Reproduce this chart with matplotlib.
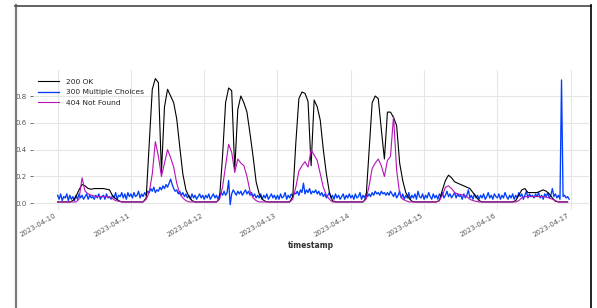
import matplotlib
matplotlib.use("Agg")
import matplotlib.pyplot as plt
import matplotlib.dates as mdates
from matplotlib.lines import Line2D
import pandas as pd

# ---------------- data (hourly for 200 / 404, half-hourly for 300) ----------------
series_names = ["200 OK", "300 Multiple Choices", "404 Not Found"]
series_colors = ["#000000", "#003DFD", "#b512b8"]

ok_200 = [
    # 04-10
    0.01, 0.01, 0.01, 0.01, 0.01, 0.02, 0.05, 0.10, 0.14, 0.13, 0.11, 0.105,
    0.11, 0.11, 0.11, 0.11, 0.105, 0.10, 0.055, 0.035, 0.02, 0.01, 0.01, 0.01,
    # 04-11
    0.01, 0.01, 0.01, 0.01, 0.01, 0.04, 0.45, 0.85, 0.93, 0.90, 0.23, 0.72,
    0.85, 0.80, 0.75, 0.63, 0.42, 0.22, 0.10, 0.05, 0.02, 0.01, 0.01, 0.01,
    # 04-12
    0.01, 0.01, 0.01, 0.01, 0.01, 0.03, 0.35, 0.75, 0.86, 0.84, 0.25, 0.70,
    0.80, 0.75, 0.68, 0.52, 0.35, 0.16, 0.07, 0.03, 0.015, 0.01, 0.01, 0.01,
    # 04-13
    0.01, 0.01, 0.01, 0.01, 0.01, 0.05, 0.45, 0.78, 0.83, 0.82, 0.76, 0.28,
    0.77, 0.72, 0.62, 0.40, 0.22, 0.08, 0.02, 0.01, 0.01, 0.01, 0.01, 0.01,
    # 04-14
    0.01, 0.01, 0.01, 0.01, 0.01, 0.04, 0.40, 0.75, 0.80, 0.78, 0.55, 0.33,
    0.68, 0.68, 0.64, 0.58, 0.30, 0.17, 0.08, 0.04, 0.015, 0.01, 0.01, 0.01,
    # 04-15
    0.01, 0.01, 0.01, 0.01, 0.01, 0.02, 0.10, 0.17, 0.21, 0.19, 0.16, 0.15,
    0.14, 0.13, 0.12, 0.11, 0.08, 0.05, 0.02, 0.01, 0.01, 0.01, 0.01, 0.01,
    # 04-16
    0.01, 0.01, 0.01, 0.01, 0.01, 0.01, 0.02, 0.06, 0.10, 0.11, 0.08, 0.08,
    0.08, 0.08, 0.09, 0.10, 0.09, 0.07, 0.04, 0.015, 0.01, 0.01, 0.01, 0.01,
]

not_found_404 = [
    # 04-10
    0.01, 0.01, 0.01, 0.01, 0.01, 0.01, 0.01, 0.03, 0.19, 0.09, 0.07, 0.06,
    0.055, 0.05, 0.05, 0.05, 0.05, 0.045, 0.035, 0.02, 0.015, 0.01, 0.01, 0.01,
    # 04-11
    0.01, 0.01, 0.01, 0.01, 0.01, 0.03, 0.08, 0.22, 0.46, 0.35, 0.20, 0.30,
    0.40, 0.34, 0.27, 0.15, 0.07, 0.04, 0.02, 0.01, 0.01, 0.01, 0.01, 0.01,
    # 04-12
    0.01, 0.01, 0.01, 0.01, 0.01, 0.03, 0.12, 0.28, 0.44, 0.38, 0.23, 0.33,
    0.30, 0.28, 0.20, 0.09, 0.04, 0.02, 0.01, 0.01, 0.01, 0.01, 0.01, 0.01,
    # 04-13
    0.01, 0.01, 0.01, 0.01, 0.01, 0.03, 0.12, 0.24, 0.28, 0.31, 0.27, 0.40,
    0.36, 0.32, 0.22, 0.12, 0.06, 0.03, 0.01, 0.01, 0.01, 0.01, 0.01, 0.01,
    # 04-14
    0.01, 0.01, 0.01, 0.01, 0.01, 0.03, 0.13, 0.26, 0.30, 0.33, 0.28, 0.20,
    0.32, 0.35, 0.65, 0.25, 0.07, 0.03, 0.02, 0.01, 0.01, 0.01, 0.01, 0.01,
    # 04-15
    0.01, 0.01, 0.01, 0.01, 0.01, 0.02, 0.06, 0.12, 0.13, 0.11, 0.08, 0.07,
    0.065, 0.06, 0.05, 0.03, 0.02, 0.015, 0.01, 0.01, 0.01, 0.01, 0.01, 0.01,
    # 04-16
    0.01, 0.01, 0.01, 0.01, 0.01, 0.01, 0.01, 0.02, 0.04, 0.05, 0.05, 0.05,
    0.05, 0.05, 0.05, 0.05, 0.045, 0.04, 0.03, 0.02, 0.01, 0.01, 0.01, 0.01,
]

multiple_300 = [
    # 04-10
    0.06, 0.03, 0.07, 0.02, 0.05, 0.04, 0.07, 0.02, 0.06, 0.03, 0.05, 0.02,
    0.06, 0.03, 0.07, 0.04, 0.06, 0.03, 0.05, 0.07, 0.03, 0.06, 0.04, 0.05,
    0.03, 0.06, 0.04, 0.07, 0.03, 0.05, 0.06, 0.03, 0.07, 0.04, 0.05, 0.03,
    0.06, 0.04, 0.08, 0.03, 0.06, 0.05, 0.08, 0.04, 0.07, 0.03, 0.08, 0.05,
    # 04-11
    0.07, 0.04, 0.08, 0.05, 0.06, 0.09, 0.04, 0.07, 0.05, 0.08, 0.06, 0.09,
    0.08, 0.11, 0.09, 0.12, 0.08, 0.10, 0.09, 0.12, 0.10, 0.13, 0.11, 0.14,
    0.12, 0.15, 0.18, 0.14, 0.11, 0.09, 0.10, 0.07, 0.09, 0.06, 0.08, 0.05,
    0.07, 0.04, 0.06, 0.03, 0.07, 0.04, 0.06, 0.03, 0.05, 0.07, 0.04, 0.06,
    # 04-12
    0.03, 0.06, 0.04, 0.07, 0.03, 0.05, 0.07, 0.04, 0.06, 0.03, 0.06, 0.08,
    0.06, 0.09, 0.06, 0.08, 0.17, -0.01, 0.07, 0.10, 0.08, 0.06, 0.09, 0.07,
    0.09, 0.06, 0.08, 0.10, 0.07, 0.09, 0.06, 0.08, 0.05, 0.07, 0.04, 0.06,
    0.04, 0.07, 0.03, 0.06, 0.04, 0.07, 0.03, 0.05, 0.07, 0.04, 0.06, 0.03,
    # 04-13
    0.06, 0.03, 0.07, 0.04, 0.05, 0.08, 0.03, 0.06, 0.04, 0.07, 0.05, 0.08,
    0.07, 0.09, 0.06, 0.10, 0.08, 0.15, 0.07, 0.10, 0.08, 0.11, 0.07, 0.09,
    0.08, 0.10, 0.07, 0.09, 0.06, 0.08, 0.05, 0.07, 0.04, 0.06, 0.08, 0.04,
    0.06, 0.03, 0.07, 0.04, 0.06, 0.03, 0.05, 0.07, 0.03, 0.06, 0.04, 0.07,
    # 04-14
    0.04, 0.06, 0.03, 0.07, 0.04, 0.05, 0.08, 0.03, 0.06, 0.04, 0.07, 0.05,
    0.07, 0.05, 0.08, 0.06, 0.09, 0.07, 0.08, 0.06, 0.09, 0.07, 0.08, 0.06,
    0.08, 0.06, 0.09, 0.07, 0.05, 0.08, 0.04, 0.06, 0.09, 0.04, 0.07, 0.03,
    0.06, 0.04, 0.08, 0.03, 0.06, 0.04, 0.07, 0.03, 0.09, 0.05, 0.04, 0.07,
    # 04-15
    0.03, 0.06, 0.04, 0.08, 0.05, 0.03, 0.07, 0.04, 0.06, 0.03, 0.07, 0.05,
    0.08, 0.04, 0.06, 0.09, 0.05, 0.07, 0.04, 0.06, 0.08, 0.04, 0.07, 0.05,
    0.06, 0.03, 0.07, 0.04, 0.06, 0.10, 0.04, 0.06, 0.03, 0.07, 0.04, 0.06,
    0.03, 0.06, 0.04, 0.07, 0.03, 0.05, 0.08, 0.04, 0.06, 0.03, 0.07, 0.05,
    # 04-16
    0.04, 0.07, 0.03, 0.06, 0.04, 0.08, 0.05, 0.03, 0.06, 0.04, 0.07, 0.03,
    0.06, 0.04, 0.08, 0.05, 0.07, 0.03, 0.06, 0.09, 0.04, 0.07, 0.05, 0.06,
    0.04, 0.07, 0.05, 0.08, 0.04, 0.06, 0.03, 0.07, 0.05, 0.08, 0.04, 0.06,
    0.11, 0.05, 0.07, 0.04, 0.06, 0.03, 0.92, 0.05, 0.06, 0.04, 0.05, 0.03,
]

start_time = "2023-04-10"
y_ticks = [0.0, 0.2, 0.4, 0.6, 0.8]
x_label = "timestamp"

t_hourly = pd.date_range(start_time, periods=len(ok_200), freq="h")
t_half = pd.date_range(start_time, periods=len(multiple_300), freq="30min")

# ---------------- figure ----------------
fig = plt.figure(figsize=(5.97, 3.08), dpi=100)
ax = fig.add_axes([33 / 597, 1 - 210 / 308, (589 - 33) / 597, (210 - 70) / 308])

ax.plot(t_hourly, ok_200, color=series_colors[0], lw=0.8, label=series_names[0], zorder=3)
ax.plot(t_half, multiple_300, color=series_colors[1], lw=0.95, label=series_names[1], zorder=2)
ax.plot(t_hourly, not_found_404, color=series_colors[2], lw=0.8, label=series_names[2], zorder=4)

x0 = pd.Timestamp("2023-04-10") - pd.Timedelta(hours=8.06)
x1 = pd.Timestamp("2023-04-17") + pd.Timedelta(hours=6.0)
ax.set_xlim(x0, x1)
ax.set_ylim(-0.05, 0.994)

ax.xaxis.set_major_locator(mdates.DayLocator())
ax.xaxis.set_major_formatter(mdates.DateFormatter("%Y-%m-%d"))
ax.set_yticks(y_ticks)
ax.yaxis.set_major_formatter(matplotlib.ticker.FormatStrFormatter("%.1f"))

for s in ax.spines.values():
    s.set_visible(False)
ax.grid(True, color="#e6e6e6", lw=0.8)
ax.set_axisbelow(True)
ax.tick_params(axis="both", labelsize=5, colors="#555555", length=2.5, width=0.6, pad=2)
ax.tick_params(axis="x", length=0)
for lab in ax.get_xticklabels():
    lab.set_rotation(30)
    lab.set_ha("right")

ax.set_xlabel(x_label, fontsize=5.5, fontweight="bold", color="#333333", labelpad=2)

leg = ax.legend(loc="upper left", frameon=False, fontsize=5.4, handlelength=2.9,
                handletextpad=0.9, labelspacing=0.55, borderaxespad=0.2,
                bbox_to_anchor=(0.0, 0.97))
for t in leg.get_texts():
    t.set_color("#222222")

# screenshot-style border
W, H = 597, 308
fig.add_artist(Line2D([15.5 / W, 15.5 / W], [0, 1 - 5 / H], color="#7a7a7a", lw=1.6, transform=fig.transFigure))
fig.add_artist(Line2D([15 / W, 591 / W], [1 - 5.5 / H, 1 - 5.5 / H], color="#555555", lw=1.3, transform=fig.transFigure))
fig.add_artist(Line2D([590.5 / W, 590.5 / W], [0, 1 - 5 / H], color="#000000", lw=1.2, transform=fig.transFigure))

fig.savefig("out.png", dpi=100)
